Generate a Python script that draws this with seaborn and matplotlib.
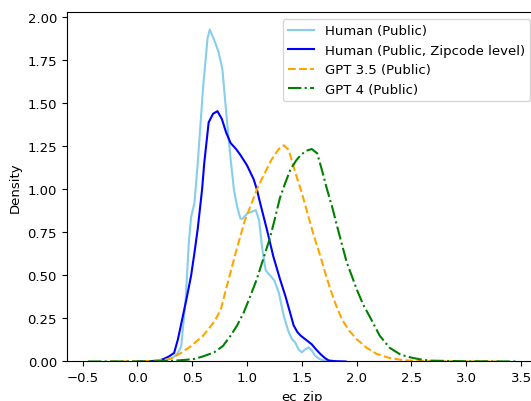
import matplotlib
matplotlib.use("Agg")
import matplotlib.pyplot as plt
import seaborn as sns

# Densidades (x = ec_zip, y = densidad)
human_x = [0.15, 0.25, 0.32, 0.37, 0.40, 0.44, 0.47, 0.49, 0.52, 0.55, 0.60, 0.64, 0.66,
           0.70, 0.74, 0.775, 0.80, 0.82, 0.85, 0.88, 0.91, 0.94, 0.96, 1.00, 1.04, 1.08,
           1.11, 1.14, 1.17, 1.21, 1.25, 1.29, 1.335, 1.38, 1.41, 1.44, 1.47, 1.50, 1.53,
           1.56, 1.59, 1.62, 1.66, 1.70, 1.76]
human_y = [0.0, 0.005, 0.02, 0.05, 0.09, 0.36, 0.70, 0.84, 0.92, 1.15, 1.60, 1.88, 1.93,
           1.87, 1.80, 1.70, 1.52, 1.38, 1.18, 1.00, 0.90, 0.83, 0.83, 0.86, 0.87, 0.88,
           0.82, 0.65, 0.53, 0.50, 0.47, 0.40, 0.265, 0.17, 0.13, 0.11, 0.07, 0.053, 0.07,
           0.082, 0.065, 0.034, 0.015, 0.005, 0.0]

zip_x = [0.0, 0.10, 0.20, 0.24, 0.29, 0.335, 0.37, 0.41, 0.45, 0.49, 0.52, 0.55, 0.59,
         0.61, 0.65, 0.69, 0.73, 0.77, 0.81, 0.85, 0.90, 0.94, 1.00, 1.06, 1.09, 1.12,
         1.18, 1.24, 1.30, 1.35, 1.39, 1.425, 1.46, 1.49, 1.54, 1.59, 1.63, 1.67, 1.71,
         1.745, 1.80, 1.90]
zip_y = [0.0, 0.001, 0.006, 0.015, 0.03, 0.05, 0.13, 0.25, 0.37, 0.50, 0.63, 0.77, 1.00,
         1.155, 1.39, 1.44, 1.455, 1.41, 1.33, 1.27, 1.235, 1.20, 1.14, 1.06, 1.00, 0.92,
         0.77, 0.61, 0.48, 0.38, 0.29, 0.21, 0.17, 0.15, 0.125, 0.10, 0.07, 0.043, 0.02,
         0.006, 0.002, 0.0]

gpt35_x = [-0.25, 0.0, 0.15, 0.25, 0.30, 0.40, 0.49, 0.60, 0.70, 0.76, 0.80, 0.85, 0.90,
           0.94, 0.98, 1.03, 1.09, 1.15, 1.22, 1.29, 1.335, 1.38, 1.44, 1.50, 1.55, 1.61,
           1.67, 1.72, 1.76, 1.81, 1.865, 1.93, 2.00, 2.09, 2.18, 2.30, 2.40, 2.49, 2.70,
           3.00, 3.30]
gpt35_y = [0.0, 0.001, 0.004, 0.01, 0.015, 0.05, 0.09, 0.15, 0.23, 0.30, 0.40, 0.52, 0.64,
           0.73, 0.82, 0.90, 1.00, 1.08, 1.17, 1.235, 1.257, 1.23, 1.10, 0.98, 0.865, 0.73,
           0.61, 0.50, 0.42, 0.33, 0.246, 0.18, 0.13, 0.08, 0.045, 0.02, 0.01, 0.005, 0.002,
           0.001, 0.0]

gpt4_x = [-0.45, 0.0, 0.30, 0.45, 0.52, 0.60, 0.70, 0.78, 0.85, 0.91, 0.97, 1.03, 1.09,
          1.15, 1.21, 1.25, 1.30, 1.35, 1.395, 1.45, 1.49, 1.54, 1.59, 1.64, 1.68, 1.73,
          1.78, 1.82, 1.87, 1.91, 1.96, 2.00, 2.06, 2.12, 2.21, 2.30, 2.40, 2.49, 2.58,
          2.67, 3.00, 3.45]
gpt4_y = [0.0, 0.0, 0.003, 0.01, 0.015, 0.03, 0.053, 0.09, 0.15, 0.21, 0.285, 0.38, 0.48,
          0.60, 0.72, 0.82, 0.95, 1.04, 1.115, 1.17, 1.20, 1.225, 1.235, 1.21, 1.12, 1.00,
          0.89, 0.79, 0.67, 0.575, 0.49, 0.42, 0.33, 0.26, 0.15, 0.08, 0.04, 0.024, 0.012,
          0.005, 0.001, 0.0]

plt.rcParams['font.size'] = 9.5

fig = plt.figure(figsize=(5.31, 4.02), dpi=100)
ax = fig.add_axes([0.1256, 0.0983, 0.8857, 0.8687])

sns.lineplot(x=human_x, y=human_y, sort=False, color="skyblue", label="Human (Public)", ax=ax)
sns.lineplot(x=zip_x, y=zip_y, sort=False, color="blue",
             label="Human (Public, Zipcode level)", ax=ax)
sns.lineplot(x=gpt35_x, y=gpt35_y, sort=False, color="orange", linestyle="--",
             label="GPT 3.5 (Public)", ax=ax)
sns.lineplot(x=gpt4_x, y=gpt4_y, sort=False, color="green", linestyle="-.",
             label="GPT 4 (Public)", ax=ax)

ax.set_xlim(-0.645, 3.645)
ax.set_ylim(0, 2.03)
ax.set_xlabel("ec_zip")
ax.set_ylabel("Density")
ax.legend(loc="upper right")

fig.savefig("out.png", dpi=100)
